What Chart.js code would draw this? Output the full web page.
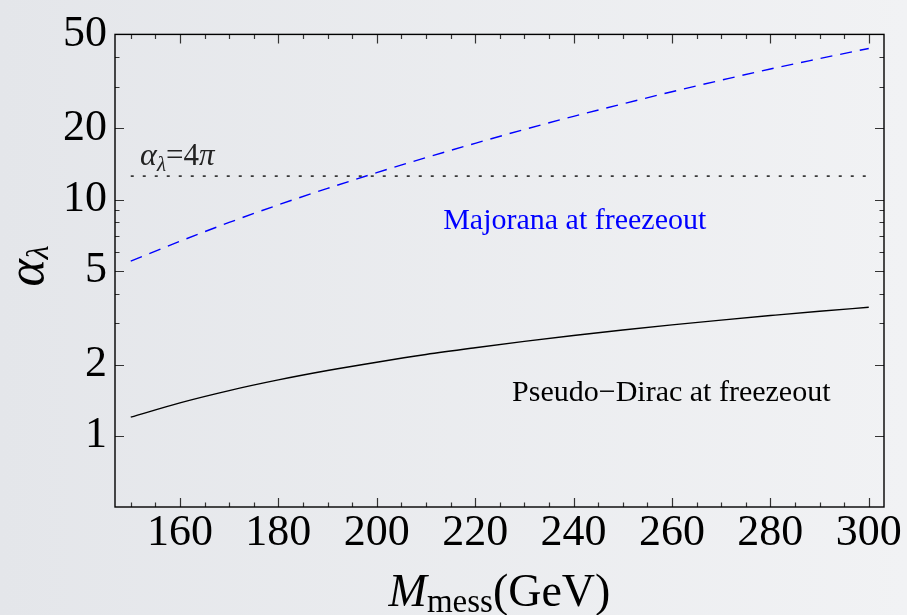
<!DOCTYPE html>
<html>
<head>
<meta charset="utf-8">
<script src="https://cdn.jsdelivr.net/npm/chart.js@4.4.1/dist/chart.umd.min.js"></script>
<style>
  html, body { margin: 0; padding: 0; }
  body {
    width: 907px;
    height: 615px;
    overflow: hidden;
    background: linear-gradient(to right, #e4e6ea, #f1f2f4);
  }
  canvas { display: block; }
</style>
</head>
<body>
<canvas id="chart" width="907" height="615"></canvas>
<script>
// messenger mass (GeV)
const massGeV = [150, 160, 170, 180, 190, 200, 210, 220, 230, 240, 250, 260, 270, 280, 290, 300]
// coupling needed for the relic density
const majorana = [5.49, 6.66, 8.0, 9.5, 11.15, 13.0, 15.05, 17.3, 19.8, 22.5, 25.4, 28.6, 32.0, 35.7, 39.5, 43.6]
const pseudoDirac = [1.20, 1.38, 1.555, 1.725, 1.89, 2.05, 2.21, 2.36, 2.51, 2.66, 2.805, 2.95, 3.09, 3.23, 3.37, 3.50]
// perturbativity limit alpha = 4 pi
const limitValue = 4 * Math.PI
const limitRange = [150, 300]

const xTickLabels = [160, 180, 200, 220, 240, 260, 280, 300]
const xMinorTicks = [150, 155, 165, 170, 175, 185, 190, 195, 205, 210, 215, 225, 230, 235, 245, 250, 255, 265, 270, 275, 285, 290, 295]
const yTickLabels = [1, 2, 5, 10, 20, 50]
const yMinorTicks = [3, 4, 6, 7, 8, 9, 30, 40]

const SERIF = "'Liberation Serif', 'DejaVu Serif', serif"

const toPoints = (xs, ys) => xs.map((x, i) => ({ x: x, y: ys[i] }))

// draw a run of text pieces (for sub/superscripts), returns total width
function drawRuns(ctx, runs, x, y, align) {
  let total = 0
  runs.forEach(r => { ctx.font = r.font; total += ctx.measureText(r.text).width })
  let cx = align === "center" ? x - total / 2 : x
  ctx.textAlign = "left"
  ctx.textBaseline = "alphabetic"
  runs.forEach(r => {
    ctx.font = r.font
    ctx.fillStyle = r.color || "#000"
    ctx.fillText(r.text, cx, y + (r.dy || 0))
    cx += ctx.measureText(r.text).width
  })
  return total
}

const framePlugin = {
  id: "frame",
  afterDraw(chart) {
    const ctx = chart.ctx
    const area = chart.chartArea
    const xs = chart.scales.x
    const ys = chart.scales.y

    ctx.save()
    // ticks on all four sides, pointing inward
    ctx.strokeStyle = "#333"
    ctx.lineWidth = 1.2
    ctx.beginPath()
    const xTick = (v, len) => {
      const px = Math.round(xs.getPixelForValue(v)) + 0.5
      ctx.moveTo(px, area.bottom); ctx.lineTo(px, area.bottom - len)
      ctx.moveTo(px, area.top); ctx.lineTo(px, area.top + len)
    }
    const yTick = (v, len) => {
      const py = Math.round(ys.getPixelForValue(v)) + 0.5
      ctx.moveTo(area.left, py); ctx.lineTo(area.left + len, py)
      ctx.moveTo(area.right, py); ctx.lineTo(area.right - len, py)
    }
    xTickLabels.forEach(v => xTick(v, 9))
    xMinorTicks.forEach(v => xTick(v, 4.5))
    yTickLabels.forEach(v => yTick(v, 9))
    yMinorTicks.forEach(v => yTick(v, 4.5))
    ctx.stroke()

    // frame
    ctx.strokeStyle = "#000"
    ctx.lineWidth = 1.4
    ctx.strokeRect(area.left, area.top, area.right - area.left, area.bottom - area.top)

    // axis titles
    drawRuns(ctx, [
      { text: "M", font: "italic 46px " + SERIF },
      { text: "mess", font: "33px " + SERIF, dy: 6 },
      { text: "(GeV)", font: "46px " + SERIF }
    ], (area.left + area.right) / 2, 606, "center")

    ctx.save()
    ctx.translate(43, 266)
    ctx.rotate(-Math.PI / 2)
    drawRuns(ctx, [
      { text: "α", font: "italic 52px " + SERIF },
      { text: "λ", font: "italic 32px " + SERIF, dy: 5 }
    ], 0, 0, "center")
    ctx.restore()

    // curve labels, anchored in data coordinates
    drawRuns(ctx, [
      { text: "α", font: "italic 32px " + SERIF, color: "#222" },
      { text: "λ", font: "italic 21px " + SERIF, dy: 6, color: "#222" },
      { text: "=4", font: "31px " + SERIF, color: "#222" },
      { text: "π", font: "italic 31px " + SERIF, color: "#222" }
    ], xs.getPixelForValue(151.9), ys.getPixelForValue(14.0), "left")

    drawRuns(ctx, [{ text: "Majorana at freezeout", font: "30px " + SERIF, color: "#0000ff" }],
      xs.getPixelForValue(213.5), ys.getPixelForValue(7.48), "left")

    drawRuns(ctx, [{ text: "Pseudo\u2212Dirac at freezeout", font: "30px " + SERIF, color: "#000" }],
      xs.getPixelForValue(227.5), ys.getPixelForValue(1.41), "left")

    ctx.restore()
  }
}

new Chart(document.getElementById("chart"), {
  type: "line",
  data: {
    datasets: [
      {
        label: "alpha = 4 pi",
        data: toPoints(limitRange, [limitValue, limitValue]),
        borderColor: "#3a3a3a",
        borderWidth: 1.8,
        borderDash: [3, 9],
        pointRadius: 0
      },
      {
        label: "Majorana at freezeout",
        data: toPoints(massGeV, majorana),
        borderColor: "#0000ff",
        borderWidth: 1.4,
        borderDash: [12, 8],
        pointRadius: 0,
        cubicInterpolationMode: "monotone"
      },
      {
        label: "Pseudo-Dirac at freezeout",
        data: toPoints(massGeV, pseudoDirac),
        borderColor: "#000",
        borderWidth: 1.4,
        pointRadius: 0,
        cubicInterpolationMode: "monotone"
      }
    ]
  },
  options: {
    responsive: false,
    animation: false,
    layout: { padding: { top: 32, right: 23, left: 0, bottom: 0 } },
    plugins: {
      legend: { display: false },
      tooltip: { enabled: false }
    },
    scales: {
      x: {
        type: "linear",
        min: 146.8,
        max: 303.1,
        grid: { display: false, drawTicks: false },
        border: { display: false },
        ticks: {
          autoSkip: false,
          maxRotation: 0,
          padding: 0,
          color: "#000",
          font: { family: SERIF, size: 44 }
        },
        afterBuildTicks: scale => { scale.ticks = xTickLabels.map(v => ({ value: v })) },
        afterFit: scale => { scale.height = 108 }
      },
      y: {
        type: "logarithmic",
        min: 0.5,
        max: 50,
        grid: { display: false, drawTicks: false },
        border: { display: false },
        ticks: {
          autoSkip: false,
          padding: 8,
          color: "#000",
          font: { family: SERIF, size: 44 },
          callback: v => String(v)
        },
        afterBuildTicks: scale => { scale.ticks = yTickLabels.map(v => ({ value: v })) },
        afterFit: scale => { scale.width = 115 }
      }
    }
  },
  plugins: [framePlugin]
})
</script>
</body>
</html>
